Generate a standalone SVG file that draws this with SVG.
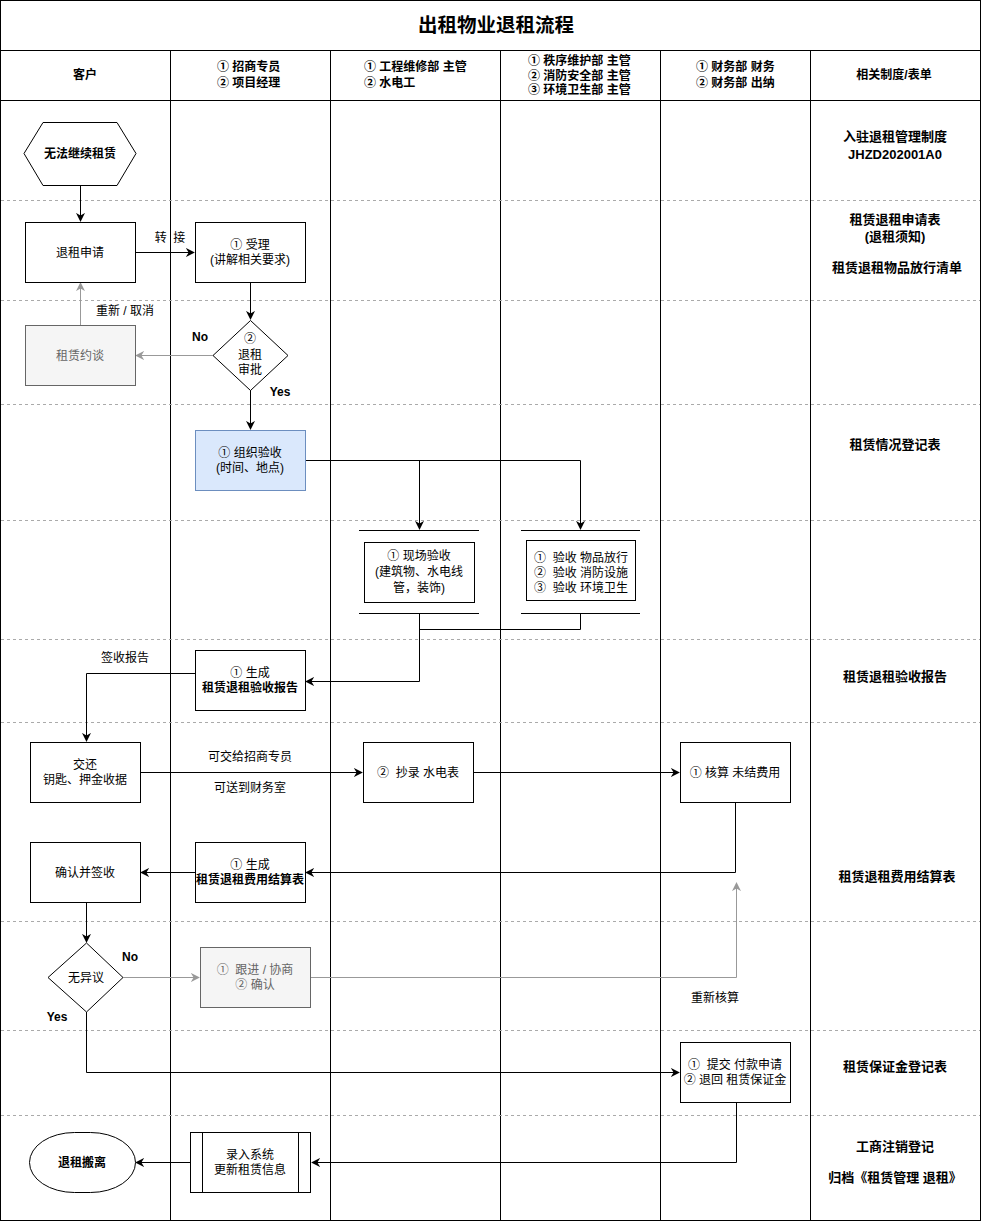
<svg xmlns="http://www.w3.org/2000/svg" width="981" height="1221" viewBox="0 0 981 1221">
<style>
text{font-family:"Liberation Sans","Noto Sans CJK SC",sans-serif;font-size:12px;fill:#000;text-anchor:middle;white-space:pre}
.b{font-weight:bold}
.l{text-anchor:start}
.g{fill:#666}
.d{font-size:13px;font-weight:bold}
.box{fill:#fff;stroke:#000;stroke-width:1}
.gbox{fill:#f5f5f5;stroke:#666;stroke-width:1}
.grid{stroke:#000;stroke-width:1;fill:none}
.dash{stroke:#aaa;stroke-width:1;stroke-dasharray:3,3}
.c{stroke:#000;stroke-width:1;fill:none}
.cg{stroke:#999;stroke-width:1;fill:none}
</style>
<defs>
<marker id="a" viewBox="0 0 10 10" refX="9" refY="5" markerWidth="9" markerHeight="9" orient="auto" markerUnits="userSpaceOnUse"><path d="M0,0 L10,5 L0,10 L3,5 z" fill="#000"/></marker>
<marker id="ag" viewBox="0 0 10 10" refX="9" refY="5" markerWidth="9" markerHeight="9" orient="auto" markerUnits="userSpaceOnUse"><path d="M0,0 L10,5 L0,10 L3,5 z" fill="#999"/></marker>
</defs>
<rect x="0" y="0" width="981" height="1221" fill="#fff"/>
<g id="frame">
<rect x="0.5" y="0.5" width="980" height="1220" class="grid"/>
<line x1="0" y1="50.5" x2="981" y2="50.5" class="grid"/>
<line x1="0" y1="100.5" x2="981" y2="100.5" class="grid"/>
<line x1="170.5" y1="50" x2="170.5" y2="1221" class="grid"/>
<line x1="330.5" y1="50" x2="330.5" y2="1221" class="grid"/>
<line x1="500.5" y1="50" x2="500.5" y2="1221" class="grid"/>
<line x1="660.5" y1="50" x2="660.5" y2="1221" class="grid"/>
<line x1="810.5" y1="50" x2="810.5" y2="1221" class="grid"/>
<g>
<line x1="1" y1="200.5" x2="980" y2="200.5" class="dash"/>
<line x1="1" y1="300.5" x2="980" y2="300.5" class="dash"/>
<line x1="1" y1="404.5" x2="980" y2="404.5" class="dash"/>
<line x1="1" y1="520.5" x2="980" y2="520.5" class="dash"/>
<line x1="1" y1="639.5" x2="980" y2="639.5" class="dash"/>
<line x1="1" y1="722.5" x2="980" y2="722.5" class="dash"/>
<line x1="1" y1="921.5" x2="980" y2="921.5" class="dash"/>
<line x1="1" y1="1030.5" x2="980" y2="1030.5" class="dash"/>
<line x1="1" y1="1115.5" x2="980" y2="1115.5" class="dash"/>
</g>
<text x="496" y="32" class="b" style="font-size:19.5px">出租物业退租流程</text>
<text x="85" y="79" class="b">客户</text>
<text x="217" y="71" class="b l">① 招商专员</text>
<text x="217" y="87" class="b l">② 项目经理</text>
<text x="364" y="71" class="b l">① 工程维修部 主管</text>
<text x="364" y="87" class="b l">② 水电工</text>
<text x="528" y="65" class="b l">① 秩序维护部 主管</text>
<text x="528" y="80" class="b l">② 消防安全部 主管</text>
<text x="528" y="94" class="b l">③ 环境卫生部 主管</text>
<text x="696" y="71" class="b l">① 财务部 财务</text>
<text x="696" y="87" class="b l">② 财务部 出纳</text>
<text x="894" y="79" class="b">相关制度/表单</text>
</g>
<g id="docs">
<text x="895" y="141" class="d">入驻退租管理制度</text>
<text x="895" y="159" class="d">JHZD202001A0</text>
<text x="895" y="224" class="d">租赁退租申请表</text>
<text x="895" y="241" class="d">(退租须知)</text>
<text x="897" y="272" class="d">租赁退租物品放行清单</text>
<text x="895" y="449" class="d">租赁情况登记表</text>
<text x="895" y="681" class="d">租赁退租验收报告</text>
<text x="897" y="881" class="d">租赁退租费用结算表</text>
<text x="895" y="1071" class="d">租赁保证金登记表</text>
<text x="895" y="1151" class="d">工商注销登记</text>
<text x="895" y="1182" class="d">归档《租赁管理 退租》</text>
</g>
<g id="connectors">
<path d="M80.5,185 V221" class="c" marker-end="url(#a)"/>
<path d="M135,252.5 H194" class="c" marker-end="url(#a)"/>
<text x="170" y="242">转  接</text>
<path d="M250.5,282 V319" class="c" marker-end="url(#a)"/>
<path d="M213,355.5 H136" class="cg" marker-end="url(#ag)"/>
<text x="200" y="341" class="b">No</text>
<path d="M80.5,325 V283" class="cg" marker-end="url(#ag)"/>
<text x="125" y="315">重新 / 取消</text>
<path d="M250.5,390 V429" class="c" marker-end="url(#a)"/>
<text x="280" y="396" class="b">Yes</text>
<path d="M305,460.5 H580.5 V529" class="c" marker-end="url(#a)"/>
<path d="M419.5,460.5 V529" class="c" marker-end="url(#a)"/>
<path d="M580.5,613 V629.5 H419.5" class="c"/>
<path d="M419.5,613 V681.5 H306" class="c" marker-end="url(#a)"/>
<path d="M195,673.5 H86.5 V741" class="c" marker-end="url(#a)"/>
<text x="125" y="662">签收报告</text>
<path d="M140,772.5 H362" class="c" marker-end="url(#a)"/>
<text x="250" y="761">可交给招商专员</text>
<text x="250" y="792">可送到财务室</text>
<path d="M473,772.5 H679" class="c" marker-end="url(#a)"/>
<path d="M735.5,802 V872.5 H306" class="c" marker-end="url(#a)"/>
<path d="M195,872.5 H141" class="c" marker-end="url(#a)"/>
<path d="M86.5,902 V942" class="c" marker-end="url(#a)"/>
<path d="M123,977.5 H199" class="cg" marker-end="url(#ag)"/>
<text x="130" y="961" class="b">No</text>
<path d="M310,977.5 H736.5 V883" class="cg" marker-end="url(#ag)"/>
<text x="715" y="1002">重新核算</text>
<path d="M86.5,1012 V1072.5 H679" class="c" marker-end="url(#a)"/>
<text x="57" y="1021" class="b">Yes</text>
<path d="M736.5,1102 V1162.5 H312" class="c" marker-end="url(#a)"/>
<path d="M190,1162.5 H136" class="c" marker-end="url(#a)"/>
</g>
<g id="n-start">
<polygon points="24,153.5 43,122.5 117,122.5 136,153.5 117,185.5 43,185.5" class="box"/>
<text x="80" y="158" class="b">无法继续租赁</text>
</g>
<g id="n-apply">
<rect x="25.5" y="222.5" width="110" height="60" class="box"/>
<text x="80" y="257">退租申请</text>
</g>
<g id="n-accept">
<rect x="195.5" y="222.5" width="110" height="60" class="box"/>
<text x="250" y="249">① 受理</text>
<text x="250" y="264">(讲解相关要求)</text>
</g>
<g id="n-approve">
<polygon points="250.5,320.5 288,355.5 250.5,390.5 213,355.5" class="box"/>
<text x="250" y="343">②</text>
<text x="250" y="359">退租</text>
<text x="250" y="374">审批</text>
</g>
<g id="n-talk">
<rect x="25.5" y="325.5" width="110" height="60" class="gbox"/>
<text x="80" y="360" class="g">租赁约谈</text>
</g>
<g id="n-organize">
<rect x="195.5" y="430.5" width="110" height="60" fill="#dae8fc" stroke="#6c8ebf"/>
<text x="250" y="457">① 组织验收</text>
<text x="250" y="472">(时间、地点)</text>
</g>
<g id="n-site">
<line x1="359" y1="530.5" x2="479" y2="530.5" class="c"/>
<line x1="359" y1="613.5" x2="479" y2="613.5" class="c"/>
<rect x="364.5" y="542.5" width="110" height="60" class="box"/>
<text x="419" y="560">① 现场验收</text>
<text x="419" y="576">(建筑物、水电线</text>
<text x="419" y="592">管，装饰)</text>
</g>
<g id="n-check">
<line x1="521" y1="530.5" x2="640" y2="530.5" class="c"/>
<line x1="521" y1="613.5" x2="640" y2="613.5" class="c"/>
<rect x="526.5" y="540.5" width="109" height="60" class="box"/>
<text x="581" y="562">①  验收 物品放行</text>
<text x="581" y="577">②  验收 消防设施</text>
<text x="581" y="592">③  验收 环境卫生</text>
</g>
<g id="n-report">
<rect x="195.5" y="650.5" width="110" height="60" class="box"/>
<text x="250" y="677">① 生成</text>
<text x="250" y="692" class="b">租赁退租验收报告</text>
</g>
<g id="n-return">
<rect x="30.5" y="742.5" width="110" height="60" class="box"/>
<text x="85" y="769">交还</text>
<text x="85" y="784">钥匙、押金收据</text>
</g>
<g id="n-meter">
<rect x="363.5" y="742.5" width="110" height="60" class="box"/>
<text x="418" y="777">②  抄录 水电表</text>
</g>
<g id="n-calc">
<rect x="680.5" y="742.5" width="110" height="60" class="box"/>
<text x="735" y="777">① 核算 未结费用</text>
</g>
<g id="n-settle">
<rect x="195.5" y="842.5" width="110" height="60" class="box"/>
<text x="250" y="869">① 生成</text>
<text x="250" y="884" class="b">租赁退租费用结算表</text>
</g>
<g id="n-confirm">
<rect x="30.5" y="842.5" width="110" height="60" class="box"/>
<text x="85" y="877">确认并签收</text>
</g>
<g id="n-noobj">
<polygon points="86.5,943 123,977.5 86.5,1012 48,977.5" class="box"/>
<text x="86" y="982">无异议</text>
</g>
<g id="n-follow">
<rect x="200.5" y="947.5" width="110" height="60" class="gbox"/>
<text x="255" y="974" class="g">①  跟进 / 协商</text>
<text x="255" y="989" class="g">② 确认</text>
</g>
<g id="n-refund">
<rect x="680.5" y="1042.5" width="110" height="60" class="box"/>
<text x="735" y="1069">①  提交 付款申请</text>
<text x="735" y="1084">② 退回 租赁保证金</text>
</g>
<g id="n-system">
<rect x="190.5" y="1132.5" width="120" height="60" class="box"/>
<line x1="202.5" y1="1132.5" x2="202.5" y2="1192.5" class="c"/>
<line x1="298.5" y1="1132.5" x2="298.5" y2="1192.5" class="c"/>
<text x="250" y="1159">录入系统</text>
<text x="250" y="1174">更新租赁信息</text>
</g>
<g id="n-end">
<rect x="29.5" y="1132.5" width="106" height="60" rx="45" ry="30" class="box"/>
<text x="82" y="1167" class="b">退租搬离</text>
</g>
</svg>
